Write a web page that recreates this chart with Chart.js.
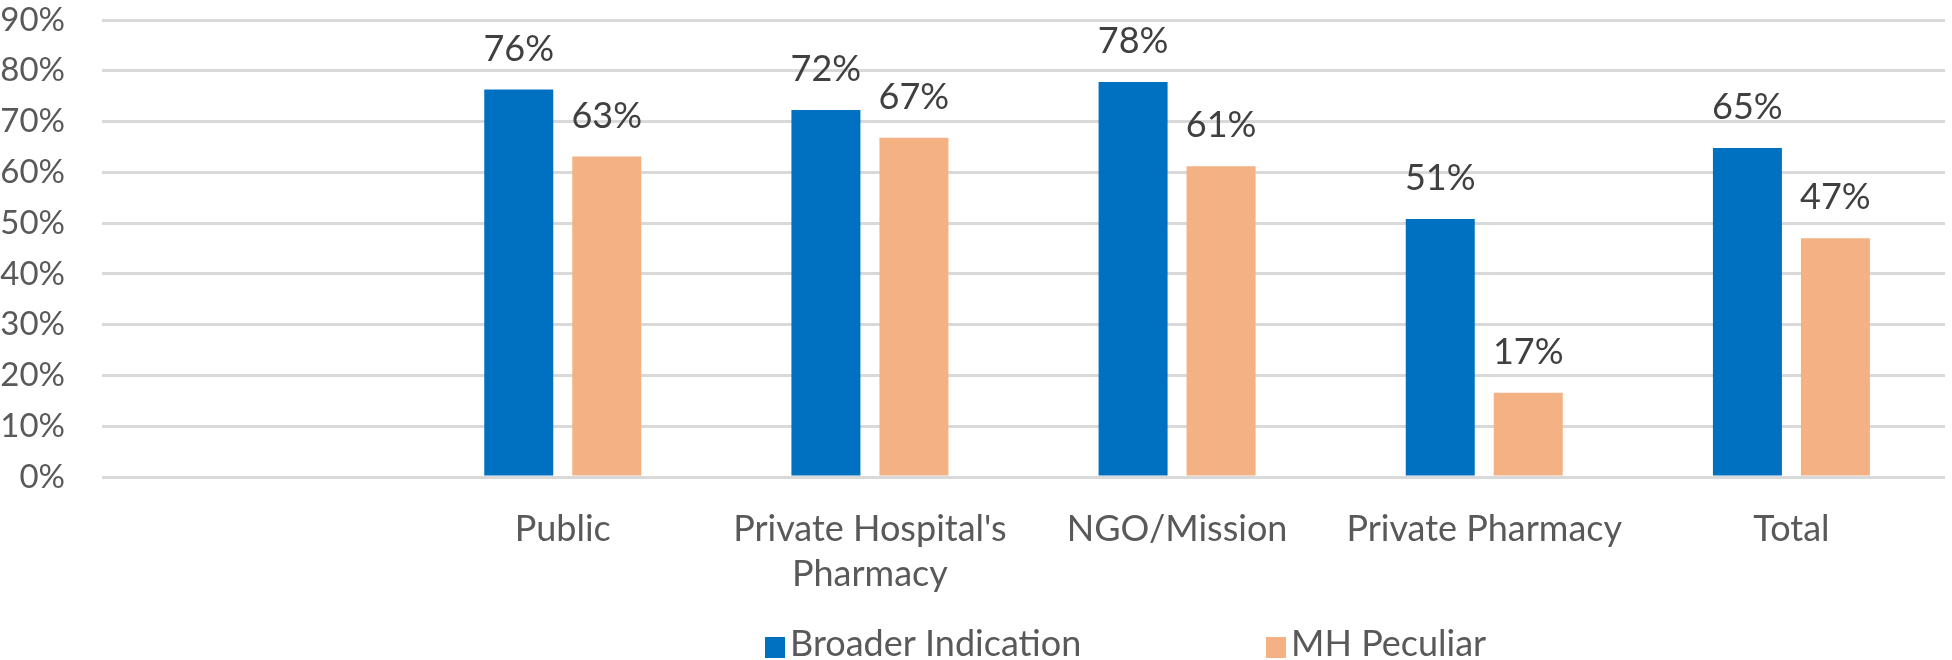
<!DOCTYPE html>
<html>
<head>
<meta charset="utf-8">
<script src="https://cdn.jsdelivr.net/npm/chart.js@4.4.0/dist/chart.umd.min.js"></script>
<style>
  html, body { margin: 0; padding: 0; background: #ffffff; }
  #wrap { width: 1952px; height: 660px; position: relative; }
</style>
</head>
<body>
<div id="wrap"><canvas id="c"></canvas></div>
<script>
// ---- data ----
const categories = ["", "Public", ["Private Hospital's", "Pharmacy"], "NGO/Mission", "Private Pharmacy", "Total"];
const seriesNames = ["Broader Indication", "MH Peculiar"];
const broaderIndication = [null, 76.3, 72.3, 77.8, 50.8, 64.8];
const mhPeculiar = [null, 63.1, 66.8, 61.2, 16.6, 47.0];
const yTicks = [0, 10, 20, 30, 40, 50, 60, 70, 80, 90];

const FONT = "Lato, 'Open Sans', sans-serif";
const FS = 36;

const dataLabels = {
  id: 'dataLabels',
  afterDatasetsDraw(chart) {
    const ctx = chart.ctx;
    ctx.save();
    ctx.font = FS + "px " + FONT;
    ctx.fillStyle = "#404040";
    ctx.textAlign = "center";
    ctx.textBaseline = "alphabetic";
    chart.data.datasets.forEach((ds, i) => {
      const meta = chart.getDatasetMeta(i);
      meta.data.forEach((el, j) => {
        const v = ds.data[j];
        if (v === null || v === undefined) return;
        ctx.fillText(Math.round(v) + "%", el.x, el.y - 29);
      });
    });
    ctx.restore();
  }
};

const customLegend = {
  id: 'customLegend',
  afterDraw(chart) {
    const ctx = chart.ctx;
    const xs = [765, 1266];
    ctx.save();
    ctx.font = FS + "px " + FONT;
    ctx.textAlign = "left";
    ctx.textBaseline = "alphabetic";
    chart.data.datasets.forEach((ds, i) => {
      ctx.fillStyle = ds.backgroundColor;
      ctx.fillRect(xs[i], 637, 20, 21);
      ctx.fillStyle = "#595959";
      ctx.fillText(ds.label, xs[i] + 25, 656);
    });
    ctx.restore();
  }
};

new Chart(document.getElementById('c'), {
  type: 'bar',
  data: {
    labels: categories,
    datasets: [
      { label: seriesNames[0], data: broaderIndication, backgroundColor: "#0070C0",
        categoryPercentage: 0.573, barPercentage: 0.784 },
      { label: seriesNames[1], data: mhPeculiar, backgroundColor: "#F4B183",
        categoryPercentage: 0.573, barPercentage: 0.784 }
    ]
  },
  options: {
    responsive: true,
    maintainAspectRatio: false,
    animation: false,
    layout: { autoPadding: false, padding: { top: 20, right: 7, left: 0, bottom: 0 } },
    plugins: { legend: { display: false }, tooltip: { enabled: false } },
    scales: {
      x: {
        grid: { display: false, drawTicks: false },
        border: { display: false },
        ticks: { color: "#595959", font: { family: FONT, size: FS, lineHeight: 1.24 }, padding: 30, maxRotation: 0, autoSkip: false },
        afterFit(s) { s.height = 183; s.paddingLeft = 0; s.paddingRight = 0; }
      },
      y: {
        min: 0, max: 90,
        afterBuildTicks(s) { s.ticks = yTicks.map(v => ({ value: v })); },
        grid: { color: "#d9d9d9", lineWidth: 3, drawTicks: false },
        border: { display: false },
        ticks: { color: "#595959", font: { family: FONT, size: 33, lineHeight: 1 }, padding: 37,
                 callback: v => v + "%" },
        afterFit(s) { s.width = 102; s.paddingTop = 0; s.paddingBottom = 0; }
      }
    }
  },
  plugins: [dataLabels, customLegend]
});
</script>
</body>
</html>
